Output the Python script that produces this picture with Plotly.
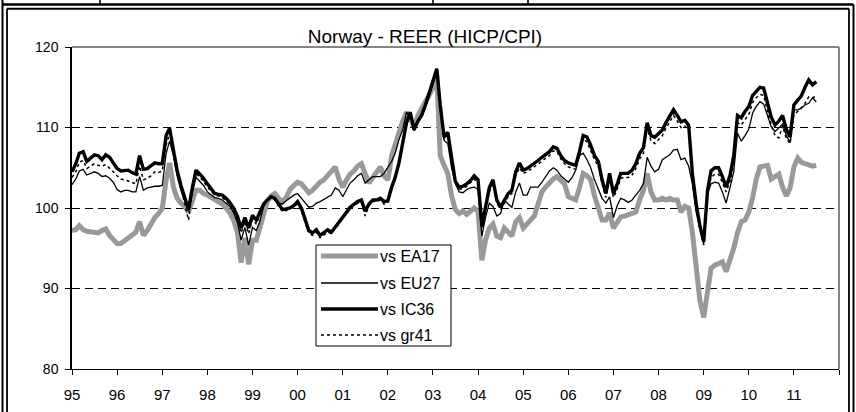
import plotly.graph_objects as go
import pandas as pd

# ---------------- data (monthly, Jan 1995 - Jul 2011) ----------------
start_month = "1995-01-01"
n_months = 199

ea17 = [
    97.2, 97.3, 97.8, 97.3, 97.1, 97.0, 97.0, 96.9, 97.2, 97.4, 96.6, 96.0,
    95.6, 95.6, 95.9, 96.3, 96.6, 97.0, 98.3, 96.6, 97.2, 98.0, 98.8, 99.3,
    100.0, 103.5, 105.6, 102.6, 101.2, 100.6, 100.2, 99.5, 101.0, 102.2, 102.2, 101.8,
    101.6, 101.3, 101.0, 100.8, 100.5, 100.0, 99.4, 98.5, 97.0, 93.2, 96.3, 93.0,
    96.0, 96.0, 97.5, 99.2, 100.8, 101.5, 101.8, 101.2, 100.8, 101.3, 102.3, 102.8,
    103.2, 103.0, 102.4, 101.9, 102.2, 102.8, 103.2, 103.5, 104.0, 104.4, 105.1, 103.6,
    102.6, 103.5, 104.2, 104.6, 105.2, 105.5, 104.2, 103.1, 103.8, 104.4, 105.1, 104.0,
    103.5, 106.5, 108.0, 109.5, 110.8, 111.9, 111.0, 110.1, 111.5, 112.5, 113.2, 114.0,
    115.0, 116.5, 106.5, 105.3, 104.3, 101.5, 99.8, 99.3, 99.6, 99.2, 99.6, 100.0,
    99.6, 93.5, 96.0, 97.5, 98.0, 96.5, 96.3, 97.5, 97.0, 96.5, 98.3, 98.8,
    97.5, 98.0, 98.5, 99.0, 100.5, 102.0, 102.6, 103.2, 103.6, 103.9, 103.5, 103.0,
    101.4, 101.2, 101.0, 102.5, 104.3, 104.0, 103.5, 101.5, 100.0, 98.5, 98.5, 99.4,
    97.5, 98.2, 98.9, 99.0, 99.2, 99.4, 99.5, 101.0, 102.2, 104.3, 102.0, 101.0,
    101.0, 101.2, 101.0, 101.2, 101.0, 101.0, 99.5, 100.2, 100.0, 97.0, 92.5, 88.5,
    86.4, 90.0, 92.5, 92.9, 93.1, 93.3, 92.1, 93.5, 95.0, 96.9, 98.3, 98.5,
    99.5, 101.3, 103.5, 105.1, 105.2, 105.3, 103.6, 104.0, 104.2, 102.6, 101.5, 102.5,
    105.1, 106.2, 105.7, 105.5, 105.3, 105.2, 105.3,
]

eu27 = [
    102.9, 103.6, 104.6, 104.8, 104.1, 104.3, 104.5, 104.3, 103.9, 104.0, 103.7, 103.2,
    102.3, 102.0, 102.2, 102.2, 102.0, 102.0, 103.9, 102.2, 102.5, 102.6, 102.7, 102.7,
    102.8, 106.8, 108.3, 106.5, 104.0, 102.2, 100.8, 99.6, 102.0, 103.8, 103.3, 102.8,
    102.0, 101.6, 101.3, 101.2, 101.0, 100.6, 100.2, 99.4, 98.2, 96.0, 97.6, 95.4,
    97.6, 97.2, 98.3, 100.2, 101.0, 101.5, 101.2, 100.6, 100.5, 100.9, 101.3, 101.6,
    101.8, 101.2, 100.6, 100.1, 100.2, 100.6, 100.8, 101.1, 101.4, 101.6, 102.5, 102.2,
    101.4, 102.3, 103.1, 103.5, 104.0, 104.3, 103.1, 103.5, 103.9, 103.9, 103.9, 104.3,
    105.1, 105.8, 106.8, 108.5, 109.7, 111.9, 111.3, 110.1, 110.8, 111.3, 112.5, 113.8,
    115.5, 117.0, 112.5, 108.4, 108.0, 105.0, 103.1, 102.0, 101.9, 102.3, 102.5, 102.6,
    102.3, 96.5, 98.8, 100.6, 100.2, 99.0, 99.3, 101.0, 100.5, 100.1, 102.0, 103.1,
    101.6, 101.6, 102.6, 102.6, 102.6, 103.2, 103.9, 104.6, 105.0, 104.7, 104.0, 103.6,
    103.2, 103.8, 104.7, 106.5, 106.8, 106.0, 105.0, 103.5, 102.4, 101.2, 100.6, 101.4,
    98.8, 100.3, 101.2, 101.0, 100.7, 101.0, 101.6, 102.2, 103.0, 106.3, 105.2, 104.5,
    104.8, 106.0, 106.3, 106.6, 107.2, 107.3, 106.0, 106.2, 105.2, 103.0, 99.5, 97.5,
    95.6, 101.8, 103.0, 103.2, 103.1, 102.0, 100.6, 102.5, 104.5, 109.3, 108.3, 109.0,
    109.8, 111.8, 112.6, 113.2, 112.9, 111.5, 110.1, 109.5, 110.0, 110.4, 109.0, 108.1,
    112.2, 112.2, 112.4, 112.8, 113.0, 113.7, 113.2,
]

ic36 = [
    104.5, 105.5, 106.8, 107.0, 105.8, 106.2, 106.6, 106.5, 106.0, 106.6, 106.3, 105.6,
    104.9, 104.6, 104.7, 104.7, 104.4, 104.2, 106.5, 104.8, 104.9, 105.2, 105.6, 105.5,
    105.5, 109.0, 109.9, 107.2, 104.7, 102.8, 101.2, 99.8, 102.5, 104.7, 104.2, 103.7,
    103.0, 102.3, 101.8, 101.7, 101.6, 101.2, 100.7, 100.0, 99.0, 97.5, 98.8, 97.5,
    99.1, 98.5, 99.5, 100.5, 101.0, 101.4, 101.2, 100.4, 99.8, 99.9, 100.0, 100.3,
    100.8, 100.0, 98.5, 97.2, 96.9, 97.3, 96.6, 96.9, 97.3, 97.0, 97.6, 98.3,
    98.8, 99.5, 100.1, 100.5, 100.8, 101.0, 99.6, 100.5, 101.0, 101.0, 101.2, 100.8,
    100.9, 102.6, 103.8, 105.6, 108.0, 110.6, 111.9, 109.7, 110.8, 111.5, 112.8, 114.2,
    115.8, 117.3, 112.8, 108.8, 109.4, 106.5, 103.3, 102.6, 102.7, 103.0, 103.4, 104.0,
    103.5, 97.8, 100.0, 102.5, 103.5, 101.0, 100.1, 101.0, 101.8, 102.2, 104.5, 105.6,
    104.7, 104.9, 105.2, 105.5, 105.9, 106.3, 106.7, 107.0, 107.6, 107.4, 106.5, 105.9,
    105.6, 105.4, 105.3, 107.0, 109.0, 108.8, 107.8, 106.5, 105.8, 103.5, 101.8, 104.3,
    101.8, 103.0, 104.3, 104.3, 104.3, 104.7, 105.5, 106.8, 107.5, 110.6, 109.0, 108.8,
    109.2, 109.7, 110.6, 111.5, 112.2, 111.5, 110.7, 110.9, 110.3, 104.3, 100.5, 97.8,
    95.8, 102.2, 104.6, 105.0, 105.0, 103.9, 102.6, 104.0, 106.5, 111.5, 111.2, 112.0,
    112.6, 114.0, 114.5, 115.0, 114.9, 112.9, 111.3, 110.3, 110.8, 111.5, 109.8, 108.8,
    112.8, 113.4, 113.9, 115.0, 115.9, 115.3, 115.7,
]

gr41 = [
    103.8, 104.5, 105.7, 105.9, 104.9, 105.2, 105.5, 105.3, 105.2, 105.4, 105.0, 104.5,
    104.0, 103.6, 103.5, 103.3, 103.2, 103.0, 105.2, 103.5, 103.7, 104.0, 104.5, 104.4,
    104.6, 107.8, 109.3, 106.8, 104.4, 102.5, 100.5, 98.5, 102.0, 104.3, 103.8, 103.3,
    102.6, 102.0, 101.6, 101.5, 101.3, 100.9, 100.4, 99.6, 98.5, 96.9, 98.3, 96.8,
    98.6, 98.0, 99.0, 100.3, 100.9, 101.3, 101.0, 100.2, 99.6, 99.7, 99.9, 100.2,
    100.5, 99.6, 98.2, 96.9, 96.6, 97.0, 96.3, 96.6, 97.0, 96.8, 97.4, 98.1,
    98.6, 99.3, 99.9, 100.3, 100.6, 100.7, 99.0, 100.3, 100.8, 100.8, 101.0, 100.5,
    100.7, 102.3, 103.6, 105.4, 107.7, 110.4, 111.7, 109.6, 110.6, 111.3, 112.6, 114.0,
    115.6, 117.1, 112.6, 108.6, 109.2, 106.3, 103.0, 102.3, 102.4, 102.7, 103.1, 103.6,
    103.0, 97.4, 99.6, 102.0, 103.0, 100.6, 99.8, 100.6, 101.4, 101.8, 104.0, 105.0,
    104.3, 104.5, 104.8, 105.1, 105.5, 105.8, 106.2, 106.5, 107.1, 107.0, 106.1, 105.5,
    105.1, 104.9, 104.8, 106.6, 108.6, 108.2, 107.2, 106.0, 105.2, 103.0, 101.3, 103.6,
    101.3, 102.4, 103.7, 103.8, 103.8, 104.1, 104.9, 106.1, 106.8, 109.9, 108.4, 108.0,
    108.5, 109.0, 109.9, 110.7, 111.5, 110.8, 110.0, 110.2, 109.6, 103.8, 100.0, 97.4,
    95.4, 101.7, 103.8, 104.2, 104.2, 103.2, 102.0, 103.3, 105.5, 110.6, 110.3, 111.0,
    111.6, 113.1, 113.7, 114.1, 114.0, 112.0, 110.3, 109.0, 108.7, 110.2, 108.6, 108.0,
    111.6, 112.0, 112.4, 113.0, 113.8, 113.7, 113.9,
]

tick_years = list(range(1995, 2013))
tick_labels = ["95", "96", "97", "98", "99", "00", "01", "02", "03",
               "04", "05", "06", "07", "08", "09", "10", "11", ""]
series_names = ["vs EA17", "vs EU27", "vs IC36", "vs gr41"]
chart_title = "Norway - REER (HICP/CPI)"

# ---------------- layout geometry ----------------
W, H = 856, 412
L, R, T, B = 72, 17, 47, 43
PW, PH = W - L - R, H - T - B


def fx(p):
    return (p - L) / PW


def fy(p):
    return (H - B - p) / PH


months = pd.date_range(start_month, periods=n_months, freq="MS")
FONT = "Arial, 'Liberation Sans', sans-serif"

styles = [
    dict(color="#999999", width=5),
    dict(color="black", width=1.3),
    dict(color="black", width=3.4),
    dict(color="black", width=1.5, dash="3px,3px"),
]

fig = go.Figure()
for name, vals, st in zip(series_names, [ea17, eu27, ic36, gr41], styles):
    fig.add_trace(go.Scatter(x=months, y=vals, mode="lines", name=name,
                             line=st, showlegend=False))


def seg(x0, y0, x1, y1, line):
    return dict(type="line", xref="paper", yref="paper",
                x0=fx(x0), y0=fy(y0), x1=fx(x1), y1=fy(y1),
                line=line, layer="above")


shapes = [
    # plot-area border (top/right, grey)
    dict(type="line", xref="paper", yref="paper", x0=0, y0=1, x1=1, y1=1,
         line=dict(color="#858585", width=2), layer="above"),
    dict(type="line", xref="paper", yref="paper", x0=1, y0=0, x1=1, y1=1,
         line=dict(color="#858585", width=2), layer="above"),
    # outer table frame
    seg(2.5, 0, 2.5, 412, dict(color="black", width=2)),
    seg(7, 8.7, 7, 412, dict(color="black", width=1.8)),
    seg(2.5, 4.5, 853.5, 4.5, dict(color="black", width=2.6)),
    seg(7, 8.7, 849, 8.7, dict(color="black", width=2)),
    seg(849, 8.7, 849, 412, dict(color="black", width=1.8)),
    seg(853.5, 4.5, 853.5, 412, dict(color="black", width=2)),
    seg(100, 0, 100, 4.5, dict(color="black", width=1.6)),
    seg(433, 0, 433, 4.5, dict(color="black", width=1.6)),
    seg(528, 0, 528, 4.5, dict(color="black", width=1.6)),
    # legend box
    dict(type="rect", xref="paper", yref="paper",
         x0=fx(316), y0=fy(346), x1=fx(451), y1=fy(245),
         line=dict(color="black", width=1), fillcolor="white", layer="above"),
]

annotations = []
legend_rows = [256, 283, 309, 335]
for name, st, yy in zip(series_names, styles, legend_rows):
    shapes.append(seg(321, yy, 378, yy, st))
    annotations.append(dict(text=name, xref="paper", yref="paper",
                            x=fx(379), y=fy(yy), xanchor="left", yanchor="middle",
                            showarrow=False, borderpad=0,
                            font=dict(size=16, family=FONT, color="black")))

fig.update_layout(
    width=W, height=H,
    margin=dict(l=L, r=R, t=T, b=B, autoexpand=False),
    paper_bgcolor="white", plot_bgcolor="white",
    font=dict(family=FONT, color="black"),
    title=dict(text=chart_title, x=0.4965, xref="container", xanchor="center",
               y=1 - 36 / H, yref="container", yanchor="middle",
               font=dict(size=19, family=FONT, color="black")),
    showlegend=False,
    shapes=shapes,
    annotations=annotations,
    xaxis=dict(type="date", range=["1995-01-01", "2012-01-01"],
               tickvals=[f"{y}-01-01" for y in tick_years], ticktext=tick_labels,
               ticks="outside", ticklen=5, tickcolor="black", tickwidth=1,
               showline=True, linecolor="black", linewidth=1,
               showgrid=False, zeroline=False,
               tickfont=dict(size=15, family=FONT, color="black"),
               ticklabelstandoff=7),
    yaxis=dict(range=[80, 120], tickvals=[80, 90, 100, 110, 120],
               ticks="outside", ticklen=5, tickcolor="black", tickwidth=1,
               showline=True, linecolor="black", linewidth=1.5,
               showgrid=True, gridcolor="black", gridwidth=1, griddash="8px,5px",
               zeroline=False,
               tickfont=dict(size=14, family=FONT, color="black"),
               ticklabelstandoff=4),
)

fig.write_html("out.html", config={"displayModeBar": False},
               post_script="document.body.style.margin='0px';")
